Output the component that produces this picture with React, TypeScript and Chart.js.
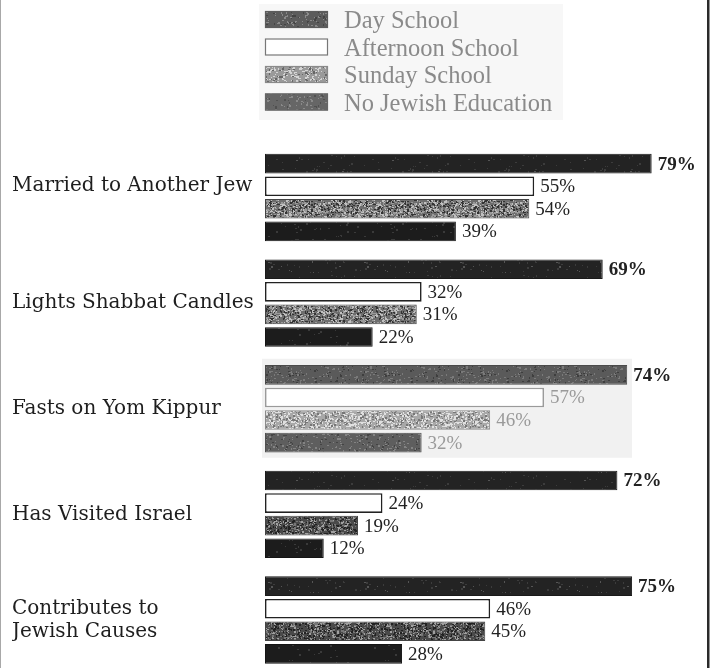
import React, { useEffect, useRef } from 'react';
import { Chart, registerables } from 'chart.js';

Chart.register(...registerables);

// ---- Data ----
const categories = [
  'Married to Another Jew',
  'Lights Shabbat Candles',
  'Fasts on Yom Kippur',
  'Has Visited Israel',
  'Contributes to Jewish Causes',
];
const seriesNames = ['Day School', 'Afternoon School', 'Sunday School', 'No Jewish Education'];
const daySchool = [79, 69, 74, 72, 75];
const afternoonSchool = [55, 32, 57, 24, 46];
const sundaySchool = [54, 31, 46, 19, 45];
const noJewishEducation = [39, 22, 32, 12, 28];
const xMax = 90;
// the third category is printed faded in the original
const fadedIndex = 2;

// how the category text is broken into lines
const labelLines: (string | string[])[] = [
  ['Married to Another Jew', ''],
  'Lights Shabbat Candles',
  'Fasts on Yom Kippur',
  'Has Visited Israel',
  ['Contributes to', 'Jewish Causes'],
];

function speckle(
  ctx: CanvasRenderingContext2D,
  base: string,
  specks: [string, number][],
  seed: number
): CanvasPattern | string {
  const c = document.createElement('canvas');
  c.width = 96;
  c.height = 40;
  const g = c.getContext('2d');
  if (!g) return base;
  g.fillStyle = base;
  g.fillRect(0, 0, c.width, c.height);
  let s = seed >>> 0;
  const rnd = () => {
    s = (Math.imul(s, 1103515245) + 12345) >>> 0;
    return (s >>> 8) / 16777216;
  };
  for (const [col, n] of specks) {
    g.fillStyle = col;
    for (let i = 0; i < n; i++) {
      const x = Math.floor(rnd() * c.width);
      const y = Math.floor(rnd() * c.height);
      g.fillRect(x, y, 1 + Math.floor(rnd() * 2), 1 + Math.floor(rnd() * 1.5));
    }
  }
  return ctx.createPattern(c, 'repeat') || base;
}

export default function App() {
  const ref = useRef<HTMLCanvasElement | null>(null);

  useEffect(() => {
    const canvas = ref.current;
    if (!canvas) return;
    const ctx = canvas.getContext('2d');
    if (!ctx) return;

    const dayFill = speckle(ctx, '#232323', [['#3c3c3c', 60], ['#555555', 12]], 7);
    const dayFade = speckle(ctx, '#5a5a5a', [['#7a7a7a', 220], ['#3e3e3e', 120]], 11);
    const sunFill = speckle(ctx, '#6e6e6e', [['#c0c0c0', 600], ['#333333', 500], ['#999999', 400]], 3);
    const sunDark = speckle(ctx, '#4a4a4a', [['#a0a0a0', 450], ['#222222', 500], ['#777777', 300]], 5);
    const sunFade = speckle(ctx, '#a8a8a8', [['#e0e0e0', 700], ['#777777', 400]], 9);
    const noFill = speckle(ctx, '#1c1c1c', [['#3a3a3a', 50]], 13);
    const noFade = speckle(ctx, '#5e5e5e', [['#838383', 220], ['#444444', 120]], 17);

    const perCat = (normal: any, faded: any, overrides: Record<number, any> = {}) =>
      categories.map((_, i) => (i in overrides ? overrides[i] : i === fadedIndex ? faded : normal));

    const legendFills = [
      speckle(ctx, '#5c5c5c', [['#8a8a8a', 250], ['#444444', 100]], 21),
      '#ffffff',
      speckle(ctx, '#9a9a9a', [['#d4d4d4', 600], ['#666666', 300]], 23),
      speckle(ctx, '#666666', [['#8a8a8a', 200], ['#505050', 100]], 27),
    ];
    const legendBorders = ['#5c5c5c', '#777777', '#8a8a8a', '#666666'];

    const decor = {
      id: 'decor',
      beforeDraw(chart: any) {
        const c = chart.ctx;
        c.save();
        c.fillStyle = '#ffffff';
        c.fillRect(0, 0, chart.width, chart.height);
        // faint paper tone behind the legend
        c.fillStyle = '#f7f7f7';
        c.fillRect(259, 4, 304, 116);
        // faded panel behind the third group
        const yc = chart.scales.y.getPixelForValue(fadedIndex);
        c.fillStyle = '#f1f1f1';
        c.fillRect(262, yc - 50, 370, 99);
        // page edges
        c.fillStyle = '#a8a8a8';
        c.fillRect(0, 0, 1, chart.height);
        c.fillStyle = '#2a2a2a';
        c.fillRect(707, 0, 2.5, chart.height);
        c.restore();
      },
    };

    const legendPlugin = {
      id: 'sideLegend',
      afterDraw(chart: any) {
        const c = chart.ctx;
        c.save();
        chart.data.datasets.forEach((ds: any, i: number) => {
          const top = 11 + i * 27.5;
          c.fillStyle = legendFills[i];
          c.fillRect(265, top, 63, 17);
          c.strokeStyle = legendBorders[i];
          c.lineWidth = 1.2;
          c.strokeRect(265.5, top + 0.5, 62, 16);
          c.fillStyle = '#8a8a8a';
          c.font = '24.5px "Liberation Serif"';
          c.textAlign = 'left';
          c.textBaseline = 'alphabetic';
          c.fillText(ds.label, 344, top + 17);
        });
        c.restore();
      },
    };

    const valueLabels = {
      id: 'valueLabels',
      afterDatasetsDraw(chart: any) {
        const c = chart.ctx;
        c.save();
        chart.data.datasets.forEach((ds: any, di: number) => {
          const meta = chart.getDatasetMeta(di);
          meta.data.forEach((el: any, i: number) => {
            const v = ds.data[i];
            const bold = di === 0;
            c.font = `${bold ? 'bold ' : ''}19px "Liberation Serif"`;
            c.fillStyle = i === fadedIndex && di > 0 ? '#9a9a9a' : '#222222';
            c.textAlign = 'left';
            c.textBaseline = 'middle';
            c.fillText(v + '%', el.x + 6, el.y + 1);
          });
        });
        c.restore();
      },
    };

    const chart = new Chart(canvas, {
      type: 'bar',
      data: {
        labels: categories,
        datasets: [
          {
            label: seriesNames[0],
            data: daySchool,
            backgroundColor: perCat(dayFill, dayFade),
            borderColor: perCat('#1a1a1a', '#4a4a4a'),
            borderWidth: 1,
            borderSkipped: false,
            clip: false as any,
          },
          {
            label: seriesNames[1],
            data: afternoonSchool,
            backgroundColor: perCat('#ffffff', '#ffffff'),
            borderColor: perCat('#222222', '#9a9a9a'),
            borderWidth: 1.6,
            borderSkipped: false,
            clip: false as any,
          },
          {
            label: seriesNames[2],
            data: sundaySchool,
            backgroundColor: perCat(sunFill, sunFade, { 3: sunDark, 4: sunDark }),
            borderColor: perCat('#444444', '#8a8a8a'),
            borderWidth: 1,
            borderSkipped: false,
            clip: false as any,
          },
          {
            label: seriesNames[3],
            data: noJewishEducation,
            backgroundColor: perCat(noFill, noFade),
            borderColor: perCat('#141414', '#505050'),
            borderWidth: 1,
            borderSkipped: false,
            clip: false as any,
          },
        ],
      },
      options: {
        indexAxis: 'y',
        responsive: false,
        animation: false,
        events: [],
        categoryPercentage: 0.855,
        barPercentage: 0.87,
        layout: { padding: { left: 12, right: 4.5, top: 197.5, bottom: 48 } },
        plugins: {
          legend: { display: false },
          tooltip: { enabled: false },
        },
        scales: {
          x: { type: 'linear', min: 0, max: xMax, display: false },
          y: {
            type: 'category',
            offset: false,
            grid: { display: false },
            border: { display: false },
            ticks: {
              autoSkip: false,
              crossAlign: 'far',
              padding: 0,
              color: '#1e1e1e',
              font: { family: '"DejaVu Serif"', size: 20, lineHeight: 1.15 },
              callback: (_v: any, i: number) => labelLines[i],
            },
            afterFit: (s: any) => {
              s.width = 253;
            },
          },
        },
      } as any,
      plugins: [decor, legendPlugin, valueLabels],
    });

    return () => chart.destroy();
  }, []);

  return (
    <div style={{ position: 'absolute', left: 0, top: 0, width: 710, height: 668, background: '#fff' }}>
      <canvas ref={ref} width={710} height={668} style={{ display: 'block', width: 710, height: 668 }} />
    </div>
  );
}
